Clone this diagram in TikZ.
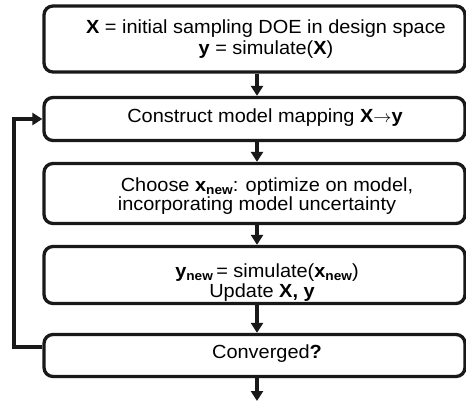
\documentclass[tikz,border=0pt]{standalone}
\usepackage{fontspec}
\setmainfont{Liberation Sans}
\usetikzlibrary{arrows.meta}
\newcommand{\sbnew}{\raisebox{-0.3ex}{\fontsize{13}{13}\selectfont\bfseries new}}
\begin{document}
\begin{tikzpicture}[x=1pt,y=-1pt,
  boxnode/.style={draw=black!90, line width=3.3pt, rounded corners=9pt,
    minimum width=421pt, inner sep=0pt},
  txt/.style={anchor=base, inner sep=0pt, font=\fontsize{19}{21}\selectfont, transform shape, xscale=1.05},
  flow/.style={line width=3.3pt, draw=black!90, -{Triangle[width=12pt,length=10pt]}}]
\useasboundingbox (0,0) rectangle (466,401);
\node[boxnode, minimum height=66pt] (b1) at (254.5,39) {};
\node[boxnode, minimum height=43pt] (b2) at (254.5,119) {};
\node[boxnode, minimum height=60pt] (b3) at (254.5,193.5) {};
\node[boxnode, minimum height=57pt] (b4) at (254.5,275) {};
\node[boxnode, minimum height=42pt] (b5) at (254.5,355.5) {};
\node[txt] (t1a) at (266,34) {\textbf{X} = initial sampling DOE in design space};
\node[txt] (t1b) at (266,55) {\textbf{y} = simulate(\textbf{X})};
\node[txt] (t2) at (265,123) {Construct model mapping \textbf{X}$\rightarrow$\textbf{y}};
\node[txt] (t3a) at (267,191) {Choose \textbf{x}\sbnew: optimize on model,};
\node[txt] (t3b) at (257,211) {incorporating model uncertainty};
\node[txt] (t4a) at (267,277) {\textbf{y}\sbnew\,= simulate(\textbf{x}\sbnew)};
\node[txt] (t4b) at (262,297) {Update \textbf{X, y}};
\node[txt] (t5) at (267,358) {Converged\textbf{?}};
\coordinate (end) at (257,401);
\coordinate (lp1) at (14,347);
\coordinate (lp2) at (14,119);
\draw[flow] (b1.south -| end) -- (b2.north -| end);
\draw[flow] (b2.south -| end) -- (b3.north -| end);
\draw[flow] (b3.south -| end) -- (b4.north -| end);
\draw[flow] (b4.south -| end) -- (b5.north -| end);
\draw[flow] (b5.south -| end) -- (end);
\draw[flow] (b5.west |- lp1) -- (lp1) -- (lp2) -- (b2.west);
\end{tikzpicture}
\end{document}
